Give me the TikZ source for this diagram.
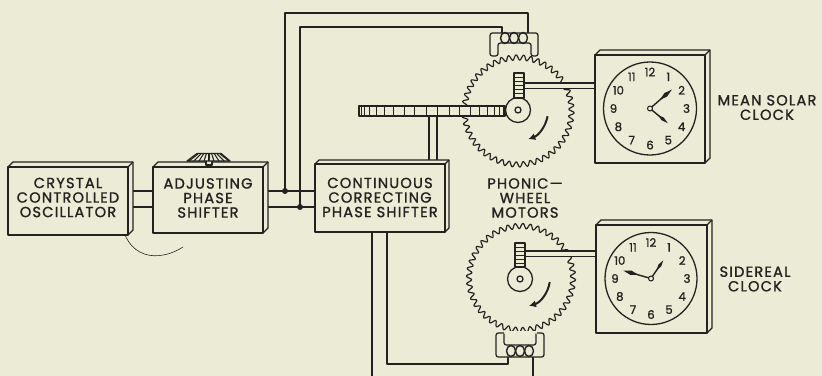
\documentclass[tikz,border=0pt]{standalone}
\usepackage{tkz-euclide}
\usepackage{fontspec}
\newfontfamily\letterfont{Poppins}[LetterSpace=8, FakeBold=1.2]
\newfontfamily\dialfont{Poppins}[FakeBold=1.2]
\usetikzlibrary{arrows.meta}
\definecolor{paper}{RGB}{235,235,214}
\definecolor{ink}{RGB}{34,34,32}

\tikzset{
  wire/.style={draw=ink, line width=1.6pt},
  slab/.style={draw=ink, fill=paper, line width=1.1pt},
  caption/.style={text=ink, font=\letterfont\fontsize{12.5}{12.4}\selectfont, align=center, inner sep=0pt},
  dial/.style={text=ink, font=\dialfont\fontsize{10}{10}\selectfont, inner sep=0pt},
  turn/.style={draw=ink, line width=1.7pt, -{Latex[length=6pt,width=6pt]}},
}

% front face from (#1,#2) to (#3,#4), depth #5
\newcommand\drawslab[5]{%
  \draw[slab] (#1,#2) -- ++(#5,-#5) -- (#3+#5,#2-#5) -- (#3+#5,#4-#5) -- (#3,#4) -- (#3,#2) -- cycle;
  \draw[slab] (#1,#2) rectangle (#3,#4);
  \draw[slab] (#3,#2) -- ++(#5,-#5);}

% centre, angle from twelve, length
\newcommand\clockhand[3]{%
  \draw[ink, line width=1.2pt, shift={(#1)}] (0,0) -- (#2-90:0.6*#3);
  \fill[ink, shift={(#1)}] (#2-90:0.45*#3) -- (#2-96:0.72*#3) -- (#2-90:#3) -- (#2-84:0.72*#3) -- cycle;}

\begin{document}
\begin{tikzpicture}[x=0.03cm, y=-0.03cm, line join=round]
\fill[paper] (0,0) rectangle (822,376);
\useasboundingbox (0,0) rectangle (822,376);

\tkzDefPoints{133/191/oa, 153/191/ia, 133/207/ob, 153/207/ib,
  267/191/ic, 315/191/ca, 267/207/id, 315/207/cb,
  285/191/J, 300/207/K, 285/13/J1, 528/13/J2, 528/35/J3,
  300/27/K1, 502/27/K2, 502/35/K3,
  372/230/L, 372/376/L1, 387/230/M, 387/364/M1, 508/364/M2, 508/354/M3,
  533/354/N, 533/376/N1}
\tkzDefPoints{518/111/W, 521/278/V, 650/108.5/C, 651/278.5/D}

% wiring
\draw[wire] (oa) -- (ia) (ob) -- (ib) (ic) -- (ca) (id) -- (cb);
\draw[wire] (J) -- (J1) -- (J2) -- (J3);
\draw[wire] (K) -- (K1) -- (K2) -- (K3);
\draw[wire] (L) -- (L1) (M) -- (M1) -- (M2) -- (M3) (N) -- (N1);
\fill[ink] (J) circle (3) (K) circle (3);
\draw[ink, line width=0.5pt] (120,213) .. controls (124,262) and (160,262) .. (183,247);

% boxes
\drawslab{8}{167}{128}{235}{5}
\drawslab{153}{167}{263}{233}{5}
\draw[slab] (429,112) rectangle (437,164);
\drawslab{315}{164}{445}{232}{4}
\node[caption] (osc) at (68,197.5) {CRYSTAL\\CONTROLLED\\OSCILLATOR};
\node[caption] (adj) at (208,198) {ADJUSTING\\PHASE\\SHIFTER};
\node[caption] (cps) at (380,197.5) {CONTINUOUS\\CORRECTING\\PHASE SHIFTER};

% knob
\draw[slab] (206,160) rectangle (212,165);
\draw[slab] (187,161) -- (197,153.5) -- (221,153.5) -- (230,161) -- cycle;
\foreach \i in {0,...,8}
  \draw[ink, line width=0.9pt] (198+2.75*\i,154) -- (189+5*\i,161);

% wheels
\draw[slab, line width=1pt] plot[domain=0:46, samples=553]
  ({518+(53.5+2.6*sin(360*frac(\x)))*cos(360/46*\x)}, {111+(53.5+2.6*sin(360*frac(\x)))*sin(360/46*\x)}) -- cycle;
\draw[slab, line width=1pt] plot[domain=0:44, samples=529]
  ({521+(52+2.6*sin(360*frac(\x)))*cos(360/44*\x)}, {278+(52+2.6*sin(360*frac(\x)))*sin(360/44*\x)}) -- cycle;

% horizontal disc
\draw[slab] (359,106) rectangle (505,116);
\foreach \k in {0,...,19}
  \draw[ink, line width=0.8pt] ({432+73*cos(4.5+9*\k)},106) -- ++(0,10);

% hubs, pinions, shafts
\draw[slab] (518,110) circle (12.5) (518,110) circle (3);
\draw[slab] (520,279) circle (12.5) (520,279) circle (3);
\draw[slab] (524,83) rectangle (595,88.5);
\draw[slab] (525,251) rectangle (596,256.5);
\draw[slab] (514,73) rectangle (524,98);
\draw[slab] (515,243) rectangle (525,267);
\foreach \t in {77,81,...,95} \draw[ink, line width=0.7pt] (514,\t) -- (524,\t);
\foreach \t in {247,251,...,264} \draw[ink, line width=0.7pt] (515,\t) -- (525,\t);
\draw[turn] (W) ++(10:30) arc (10:70:30);
\draw[turn] (V) ++(8:29) arc (8:74:29);

% magnets
\draw[slab, rounded corners=2] (490,56) -- (490,33) -- (538,33) -- (538,56) -- (531,56)
  -- (531,43) -- (498,43) -- (498,56) -- cycle;
\foreach \i in {0,1,2} \draw[ink, line width=1.2pt] (505+9*\i,38) ellipse (4.5 and 5.5);
\draw[slab, rounded corners=2] (496,357) -- (496,333) -- (544,333) -- (544,357) -- cycle;
\draw[paper, fill=paper] (504,331) rectangle (536,345);
\draw[ink, line width=1.1pt, rounded corners=2] (504,333.5) -- (504,345) -- (536,345) -- (536,333.5);
\foreach \i in {0,1,2} \draw[ink, line width=1.2pt] (511+9*\i,351) ellipse (4.5 and 5.5);
\node[caption] (pwm) at (525,198) {PHONIC—\\WHEEL\\MOTORS};

% clocks
\drawslab{595}{55}{705}{163}{5}
\drawslab{596}{225}{707}{333}{5}
\draw[ink, line width=1.1pt] (C) circle (46.5) (D) circle (46);
\foreach \h in {1,...,12} {
  \path (C) ++(30*\h-90:36.5) node[dial] (ta\h) {\h};
  \path (D) ++(30*\h-90:36) node[dial] (tb\h) {\h};
}
\clockhand{C}{49}{29}
\clockhand{C}{129.5}{23}
\clockhand{D}{286}{29}
\clockhand{D}{34}{22}
\draw[ink, fill=paper, line width=0.9pt] (C) circle (2.5) (D) circle (2.5);
\node[caption] (msc) at (767,107.5) {MEAN SOLAR\\CLOCK};
\node[caption] (sdc) at (755,279) {SIDEREAL\\CLOCK};
\end{tikzpicture}
\end{document}
